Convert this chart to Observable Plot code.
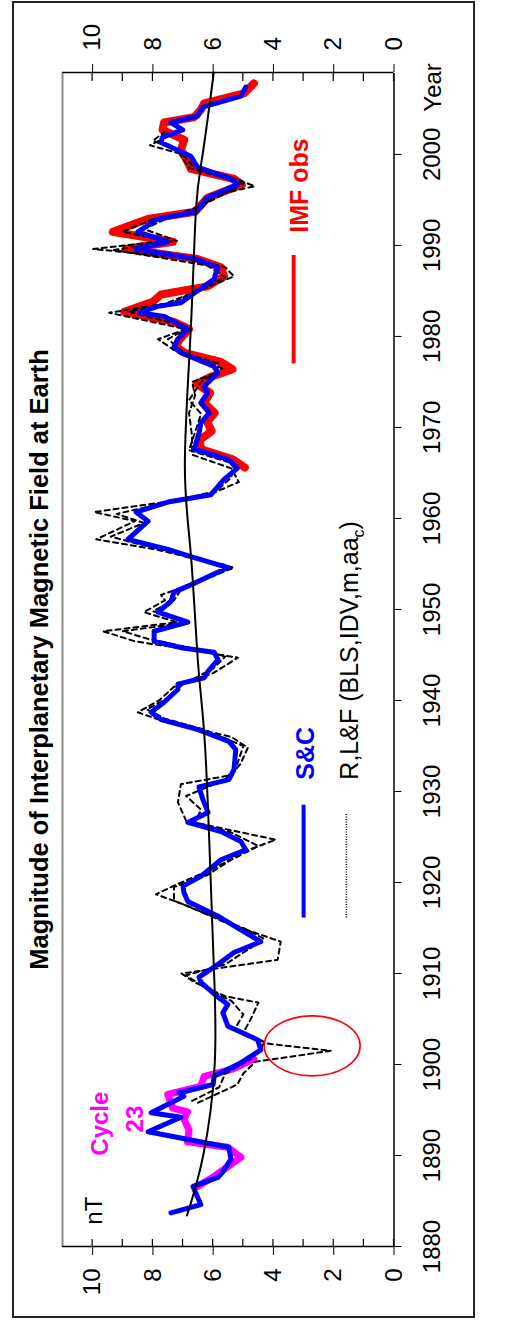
<!DOCTYPE html>
<html>
<head>
<meta charset="utf-8">
<script src="https://cdn.jsdelivr.net/npm/d3@7"></script>
<script src="https://cdn.jsdelivr.net/npm/@observablehq/plot@0.6"></script>
<style>
  html, body { margin: 0; padding: 0; background: #fff; overflow: hidden; width: 531px; height: 1320px; }
  #wrap { position: absolute; left: 0; top: 0; width: 1320px; height: 531px;
          transform-origin: 0 0; transform: translate(0px, 1320px) rotate(-90deg); }
  #border { position: absolute; left: 2px; top: 12px; width: 1317px; height: 463px;
            border: 2px solid #222; box-sizing: border-box; }
  #chart { position: absolute; left: 0; top: 0; }
</style>
</head>
<body>
<div id="wrap">
  <div id="border"></div>
  <div id="chart"></div>
</div>
<script>
// ---------- data (year, nT) ----------
const title = "Magnitude of Interplanetary Magnetic Field at Earth";
const yearTicks = [1880, 1890, 1900, 1910, 1920, 1930, 1940, 1950, 1960, 1970, 1980, 1990, 2000];
const nTMajor = [0, 2, 4, 6, 8, 10];
const nTMinor = [1, 3, 5, 7, 9];

// S&C reconstruction (blue)
const sc = [[1883.7,7.40],[1884.6,6.41],[1886.6,6.67],[1887.6,5.84],[1888.2,5.68],[1889.6,5.41],[1890.9,5.48],[1892.6,8.16],[1894.2,7.07],[1894.7,8.06],[1896.5,6.97],[1896.9,7.13],[1897.8,6.00],[1898.7,5.97],[1900.2,5.08],[1901.6,4.42],[1902.7,4.52],[1904.2,5.51],[1905.7,5.68],[1906.6,5.51],[1907.4,5.84],[1909.0,6.40],[1909.6,6.47],[1911.0,5.84],[1912.3,5.31],[1913.5,4.42],[1914.8,5.08],[1916.3,5.84],[1917.9,6.84],[1918.9,6.97],[1919.6,7.00],[1920.7,6.40],[1922.5,5.74],[1923.6,4.92],[1924.5,5.08],[1925.6,5.74],[1926.6,6.84],[1927.7,6.17],[1929.1,6.34],[1930.5,6.47],[1931.3,5.48],[1932.4,5.31],[1934.6,5.25],[1935.5,5.48],[1936.8,6.50],[1937.9,7.73],[1938.7,8.06],[1939.8,7.63],[1941.2,7.17],[1941.8,7.17],[1942.5,6.30],[1943.2,6.17],[1944.5,5.84],[1945.3,5.97],[1945.8,7.07],[1946.5,7.96],[1947.6,7.96],[1948.6,6.84],[1949.7,7.83],[1950.9,7.40],[1951.9,7.30],[1952.7,6.74],[1953.6,6.17],[1954.6,5.51],[1955.8,6.74],[1956.6,7.50],[1957.7,8.83],[1959.7,8.16],[1960.7,8.56],[1961.8,7.50],[1962.6,6.08],[1964.3,5.64],[1965.5,5.20],[1966.5,5.50],[1967.6,6.63],[1969.5,6.46],[1970.5,6.41],[1971.6,6.13],[1972.7,6.41],[1973.8,6.19],[1974.5,6.30],[1976.0,5.85],[1976.7,5.97],[1978.2,7.07],[1978.8,7.29],[1979.7,7.18],[1980.8,6.85],[1982.2,7.62],[1982.6,8.45],[1983.3,7.84],[1983.7,7.07],[1986.3,5.97],[1987.6,5.85],[1988.5,6.57],[1989.6,8.56],[1990.4,7.51],[1991.5,8.50],[1992.9,7.84],[1993.7,6.57],[1995.2,6.22],[1996.7,5.19],[1997.3,5.41],[1998.6,6.52],[1999.8,6.74],[2001.3,7.73],[2001.9,7.68],[2002.7,7.01],[2003.5,7.40],[2004.2,6.52],[2005.2,6.35],[2006.4,5.08],[2007.4,4.92]];

// IMF observations (red)
const imf = [[1965.6,4.95],[1966.5,5.35],[1967.6,6.40],[1968.6,6.45],[1969.6,6.05],[1970.6,6.20],[1971.6,5.95],[1972.7,6.30],[1973.8,6.10],[1974.8,6.55],[1975.6,6.05],[1976.4,5.36],[1977.2,5.75],[1978.2,6.95],[1978.9,7.25],[1979.7,7.10],[1980.8,6.80],[1981.6,7.30],[1982.7,8.95],[1983.8,8.00],[1984.6,7.73],[1985.5,6.19],[1986.6,5.64],[1987.6,5.74],[1988.5,6.52],[1989.6,8.90],[1990.4,7.34],[1991.5,9.33],[1992.9,8.17],[1993.7,6.60],[1995.2,6.20],[1996.7,5.05],[1997.3,5.30],[1998.4,6.74],[1999.2,6.85],[2000.5,7.07],[2001.6,6.96],[2002.7,7.68],[2003.5,7.63],[2004.1,6.63],[2004.9,6.41],[2005.6,6.30],[2006.7,4.98],[2007.8,4.65]];

// Cycle 23 overlay (magenta)
const cycle23 = [[1886.6,6.52],[1887.7,5.97],[1889.8,5.08],[1890.9,5.52],[1891.5,6.85],[1892.8,6.80],[1894.0,6.97],[1894.8,6.85],[1895.2,7.34],[1896.7,7.51],[1897.6,6.41],[1898.7,6.30],[1899.5,5.36],[1900.6,4.65]];

// R,L&F reconstructions (black dashed)
const rlfA = [[1895.8,6.5],[1897.8,5.2],[1899.0,5.0],[1900.3,4.6],[1901.5,2.1],[1902.3,4.2],[1903.5,5.0],[1905.0,4.75],[1906.8,4.5],[1907.5,5.6],[1909.0,6.6],[1910.0,7.05],[1911.5,3.86],[1913.5,3.76],[1915.6,5.6],[1917.5,6.9],[1918.7,7.9],[1919.8,7.2],[1921.5,6.0],[1923.5,4.9],[1924.7,3.92],[1925.8,5.5],[1926.8,6.9],[1928.8,7.17],[1930.8,7.07],[1931.8,5.4],[1933.0,5.1],[1934.8,4.85],[1936.0,5.4],[1937.0,6.7],[1938.0,7.9],[1938.7,8.5],[1940.0,7.8],[1941.5,7.3],[1943.0,6.0],[1944.7,5.18],[1945.8,7.2],[1946.5,8.6],[1947.6,9.65],[1948.6,7.2],[1949.7,8.3],[1951.0,7.6],[1951.6,7.73],[1953.0,6.5],[1954.6,5.31],[1955.8,6.9],[1956.6,7.9],[1957.7,9.88],[1959.7,8.6],[1960.7,9.95],[1961.8,7.6],[1962.8,6.0],[1964.0,5.15],[1965.5,5.4],[1967.0,6.7],[1969.0,6.7],[1971.6,6.8],[1973.5,6.6],[1975.0,6.7],[1976.0,5.9],[1977.0,5.8],[1978.5,7.3],[1979.7,7.83],[1980.8,6.9],[1982.6,9.45],[1983.6,7.6],[1985.0,6.5],[1986.6,5.31],[1987.6,5.6],[1988.6,6.8],[1989.6,9.98],[1990.5,7.6],[1991.5,9.0],[1992.9,8.0],[1994.0,6.4],[1995.5,6.0],[1996.5,4.62],[1997.5,5.4],[1998.8,6.7],[2000.0,7.0],[2001.0,8.1],[2002.0,7.5]];
const rlfB = [[1896.0,6.7],[1897.5,5.8],[1899.0,5.6],[1900.5,4.8],[1901.8,4.4],[1902.5,4.3],[1903.8,5.3],[1905.5,5.0],[1907.0,5.4],[1908.5,6.3],[1909.8,6.9],[1911.0,5.6],[1912.5,4.9],[1913.8,4.3],[1915.0,5.0],[1916.5,6.2],[1918.0,7.3],[1919.5,7.3],[1920.8,6.2],[1922.5,5.4],[1924.0,4.5],[1925.5,5.4],[1926.6,6.6],[1928.0,6.4],[1929.5,6.9],[1931.3,5.6],[1933.0,5.2],[1935.0,5.0],[1936.8,6.3],[1938.0,7.6],[1939.0,8.2],[1940.3,7.5],[1941.8,7.0],[1943.5,6.0],[1944.8,5.6],[1945.8,6.8],[1946.8,8.2],[1947.6,9.0],[1948.6,6.8],[1949.8,8.0],[1951.0,7.3],[1952.5,7.0],[1953.8,6.0],[1954.8,5.5],[1956.0,7.0],[1957.3,8.6],[1958.0,9.4],[1959.5,8.3],[1960.5,9.2],[1962.0,7.2],[1963.0,5.9],[1964.5,5.4],[1966.0,5.3],[1967.5,6.8],[1969.5,6.6],[1971.5,6.4],[1973.0,6.8],[1975.0,6.4],[1976.5,5.7],[1978.3,7.0],[1979.7,7.5],[1981.0,6.8],[1982.7,8.8],[1983.8,7.3],[1986.5,5.6],[1987.8,6.2],[1989.5,9.3],[1990.5,7.2],[1991.8,8.3],[1993.0,7.5],[1994.5,6.3],[1996.8,5.0],[1998.5,6.8],[2000.5,7.2],[2001.5,8.0],[2002.5,7.6]];

// long-term trend (black)
const trend = [[1883.4,6.87],[1890,6.33],[1900,5.95],[1910,5.97],[1920,6.08],[1935,6.27],[1944,6.50],[1956,6.74],[1966,6.94],[1981,6.74],[1994,6.57],[2000,6.35],[2009,5.98]];

// ---------- drawing ----------
const FONT = "'Liberation Sans', Arial, Helvetica, sans-serif";
const X = d => d[0], Y = d => d[1];

function innerTicks(values, side, len) {
  return (index, scales, vals, dims) => {
    const g = d3.create("svg:g").attr("stroke", "#000").attr("stroke-width", 1.2);
    const x0 = side === "left" ? dims.marginLeft : dims.width - dims.marginRight;
    const dir = side === "left" ? 1 : -1;
    for (const v of values) {
      const y = scales.y(v);
      g.append("line").attr("x1", x0).attr("x2", x0 + dir * len).attr("y1", y).attr("y2", y);
    }
    return g.node();
  };
}
function ellipseMark(year, nT, rx, ry) {
  return (index, scales) => d3.create("svg:ellipse")
    .attr("cx", scales.x(year)).attr("cy", scales.y(nT))
    .attr("rx", rx).attr("ry", ry)
    .attr("fill", "none").attr("stroke", "#ff0000").attr("stroke-width", 1.6).node();
}

const chart = Plot.plot({
  width: 1320,
  height: 531,
  marginLeft: 73,
  marginRight: 73,
  marginTop: 62,
  marginBottom: 137.5,
  x: {domain: [1880, 2009]},
  y: {domain: [0, 11]},
  style: {fontFamily: FONT, background: "transparent", overflow: "visible"},
  marks: [
    Plot.ruleY([11], {stroke: "#8a8a8a", strokeWidth: 2}),
    Plot.line(imf, {x: X, y: Y, stroke: "#ff0000", strokeWidth: 8, strokeLinejoin: "round", strokeLinecap: "round"}),
    Plot.line(cycle23, {x: X, y: Y, stroke: "#ff00ff", strokeWidth: 7, strokeLinejoin: "round", strokeLinecap: "round"}),
    Plot.line(rlfB, {x: X, y: Y, stroke: "#000", strokeWidth: 2, strokeDasharray: "5,4"}),
    Plot.line(rlfA, {x: X, y: Y, stroke: "#000", strokeWidth: 2, strokeDasharray: "5,4"}),
    Plot.line(sc, {x: X, y: Y, stroke: "#0000ff", strokeWidth: 5, strokeLinejoin: "round", strokeLinecap: "round"}),
    Plot.line(trend, {x: X, y: Y, stroke: "#000", strokeWidth: 2, curve: "natural"}),
    ellipseMark(1902.1, 2.7, 30, 48),

    Plot.ruleX([1880, 2009], {stroke: "#000", strokeWidth: 1.5}),
    Plot.ruleY([0], {stroke: "#000", strokeWidth: 1.5}),

    Plot.axisY({anchor: "left", ticks: nTMajor, tickSize: 8, tickPadding: 14, fontSize: 24, label: null, tickFormat: d => String(d), stroke: "#000"}),
    Plot.axisY({anchor: "right", ticks: nTMajor, tickSize: 8, tickPadding: 14, fontSize: 24, label: null, tickFormat: d => String(d), stroke: "#000"}),
    innerTicks(nTMajor.concat(nTMinor), "left", 8),
    innerTicks(nTMajor.concat(nTMinor), "right", 8),
    Plot.axisX({anchor: "bottom", ticks: yearTicks, tickSize: 8, tickPadding: 21, fontSize: 24, label: null, tickFormat: d => String(d), stroke: "#000"}),
    Plot.text(["Year"], {x: 2004.7, y: -1.56, textAnchor: "start", lineAnchor: "bottom", fontSize: 24, fill: "#000"}),

    Plot.text([title], {frameAnchor: "top", dy: -15, lineAnchor: "bottom", fontSize: 25.5, fontWeight: "bold", fill: "#000"}),

    Plot.text(["nT"], {x: 1882.4, y: 9.70, textAnchor: "start", lineAnchor: "bottom", fontSize: 24, fill: "#000"}),
    Plot.text(["Cycle"], {x: 1893.5, y: 9.5, textAnchor: "middle", lineAnchor: "bottom", fontSize: 24, fontWeight: "bold", fill: "#ff00ff"}),
    Plot.text(["23"], {x: 1894.0, y: 8.34, textAnchor: "middle", lineAnchor: "bottom", fontSize: 24, fontWeight: "bold", fill: "#ff00ff"}),

    Plot.ruleY([3.33], {x1: 1977.1, x2: 1989.0, stroke: "#ff0000", strokeWidth: 4}),
    Plot.text(["IMF obs"], {x: 1991.4, y: 2.87, textAnchor: "start", lineAnchor: "bottom", fontSize: 25, fontWeight: "bold", fill: "#ff0000"}),
    Plot.ruleY([3.0], {x1: 1916.2, x2: 1928.6, stroke: "#0000ff", strokeWidth: 4}),
    Plot.text(["S&C"], {x: 1931.3, y: 2.67, textAnchor: "start", lineAnchor: "bottom", fontSize: 25, fontWeight: "bold", fill: "#0000ff"}),
    Plot.ruleY([1.58], {x1: 1916.2, x2: 1927.7, stroke: "#000", strokeWidth: 1.5, strokeDasharray: "1,1.5"}),
    Plot.text(["R,L&F (BLS,IDV,m,aa"], {x: 1931.3, y: 1.21, textAnchor: "start", lineAnchor: "bottom", fontSize: 25, fill: "#000"})
  ]
});

d3.select(chart).selectAll("text").filter(function() { return this.textContent === "R,L&F (BLS,IDV,m,aa"; })
  .each(function() {
    const t = d3.select(this);
    t.append("tspan").attr("font-size", 16).attr("dy", 6).text("c");
    t.append("tspan").attr("dy", -6).text(")");
  });

document.getElementById("chart").appendChild(chart);
</script>
</body>
</html>
